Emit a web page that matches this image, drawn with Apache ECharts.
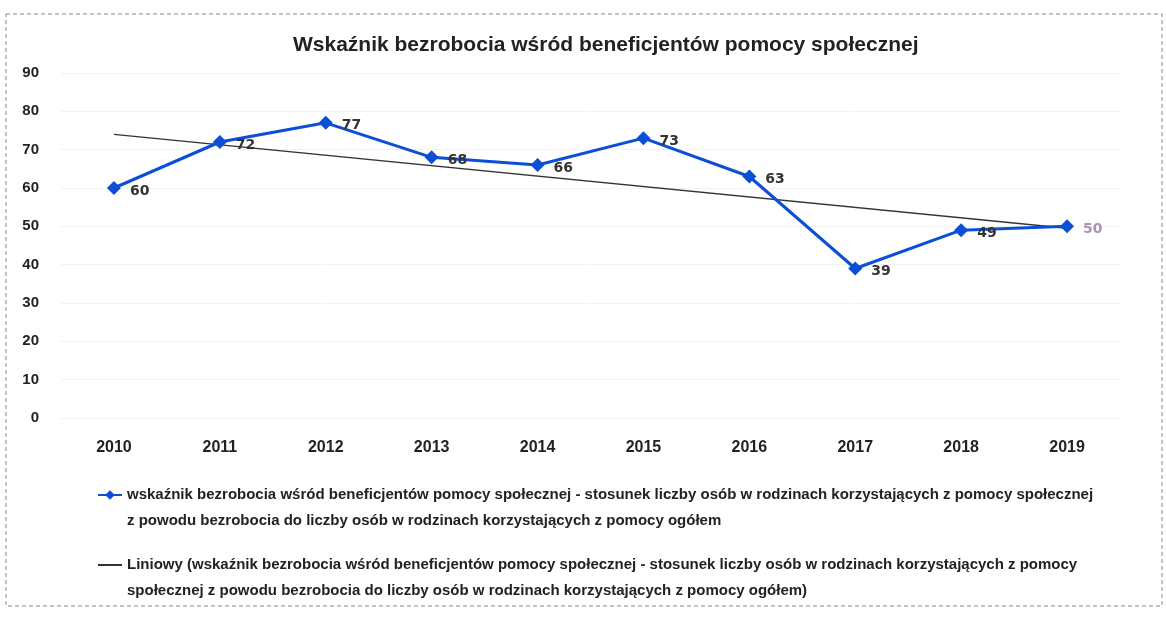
<!DOCTYPE html>
<html>
<head>
<meta charset="utf-8">
<title>Wskaźnik bezrobocia</title>
<script src="https://cdn.jsdelivr.net/npm/echarts@6/dist/echarts.min.js"></script>
<style>
  html, body { margin: 0; padding: 0; background: #fff; }
  #chart { width: 1166px; height: 622px; }
</style>
</head>
<body>
<div id="chart"></div>
<script>
// dane
const years = ['2010', '2011', '2012', '2013', '2014', '2015', '2016', '2017', '2018', '2019'];
const rate = [60, 72, 77, 68, 66, 73, 63, 39, 49, 50];
// linia trendu (Liniowy) - punkty końcowe
const trendYears = ['2010', '2019'];
const trendValues = [74, 49.5];
const yTicks = [0, 10, 20, 30, 40, 50, 60, 70, 80, 90];

const titleText = 'Wskaźnik bezrobocia wśród beneficjentów pomocy społecznej';
const seriesName = 'wskaźnik bezrobocia wśród beneficjentów pomocy społecznej - stosunek liczby osób w rodzinach korzystających z pomocy społecznej z powodu bezrobocia do liczby osób w rodzinach korzystających z pomocy ogółem';
const trendName = 'Liniowy (' + seriesName + ')';
const legendLines = {};
legendLines[seriesName] = [
    'wskaźnik bezrobocia wśród beneficjentów pomocy społecznej - stosunek liczby osób w rodzinach korzystających z pomocy społecznej',
    'z powodu bezrobocia do liczby osób w rodzinach korzystających z pomocy ogółem'
];
legendLines[trendName] = [
    'Liniowy (wskaźnik bezrobocia wśród beneficjentów pomocy społecznej - stosunek liczby osób w rodzinach korzystających z pomocy',
    'społecznej z powodu bezrobocia do liczby osób w rodzinach korzystających z pomocy ogółem)'
];

const font = '"Liberation Sans", Arial, sans-serif';

const chart = echarts.init(document.getElementById('chart'));

// legenda: pusta linia na początku, żeby ikona wypadła na wysokości pierwszego wiersza
function makeLegend(item, top) {
    return {
        orient: 'vertical',
        left: 92,
        top: top,
        itemWidth: 24,
        itemHeight: 12,
        data: [item],
        formatter: function (name) {
            return '\n' + legendLines[name].join('\n');
        },
        textStyle: { fontFamily: font, fontSize: 15, fontWeight: 'bold', color: '#222', lineHeight: 26 }
    };
}

const option = {
    backgroundColor: '#fff',
    animation: false,
    title: {
        text: titleText,
        left: 288,
        top: 30,
        textStyle: { fontFamily: font, fontSize: 21, fontWeight: 'bold', color: '#222' }
    },
    graphic: [{
        type: 'rect',
        shape: { x: 6, y: 14, width: 1156, height: 592 },
        style: { fill: 'none', stroke: '#888', lineWidth: 1, lineDash: [4, 3] },
        silent: true
    }],
    grid: { left: 61, right: 46, top: 73, bottom: 204 },
    xAxis: {
        type: 'category',
        data: years,
        boundaryGap: true,
        axisLine: { show: false },
        axisTick: { show: false },
        axisLabel: { margin: 22, fontFamily: font, fontSize: 16, fontWeight: 'bold', color: '#222' }
    },
    yAxis: {
        type: 'value',
        min: yTicks[0],
        max: yTicks[yTicks.length - 1],
        interval: 10,
        axisLine: { show: false },
        axisTick: { show: false },
        splitLine: { lineStyle: { color: '#f2f2f2', width: 1 } },
        axisLabel: { margin: 22, fontFamily: font, fontSize: 15, fontWeight: 'bold', color: '#222' }
    },
    legend: [
        makeLegend({ name: seriesName }, 451),
        makeLegend({ name: trendName, itemStyle: { opacity: 0 } }, 521)
    ],
    series: [
        {
            name: trendName,
            type: 'line',
            data: trendYears.map((y, i) => [y, trendValues[i]]),
            symbol: 'none',
            lineStyle: { color: '#333', width: 1.3 },
            itemStyle: { color: '#333' },
            z: 1
        },
        {
            name: seriesName,
            type: 'line',
            data: rate.map((v, i) => ({
                value: v,
                label: i === rate.length - 1 ? { color: '#a596b8' } : undefined
            })),
            symbol: 'diamond',
            symbolSize: 14,
            lineStyle: { color: '#0a4fd6', width: 3 },
            itemStyle: { color: '#0a4fd6' },
            label: {
                show: true,
                position: 'right',
                offset: [4, 3],
                fontFamily: '"DejaVu Sans", sans-serif',
                fontSize: 14,
                fontWeight: 'bold',
                color: '#333'
            },
            z: 2
        }
    ]
};

chart.setOption(option);
window.addEventListener('resize', function () { chart.resize(); });
</script>
</body>
</html>
